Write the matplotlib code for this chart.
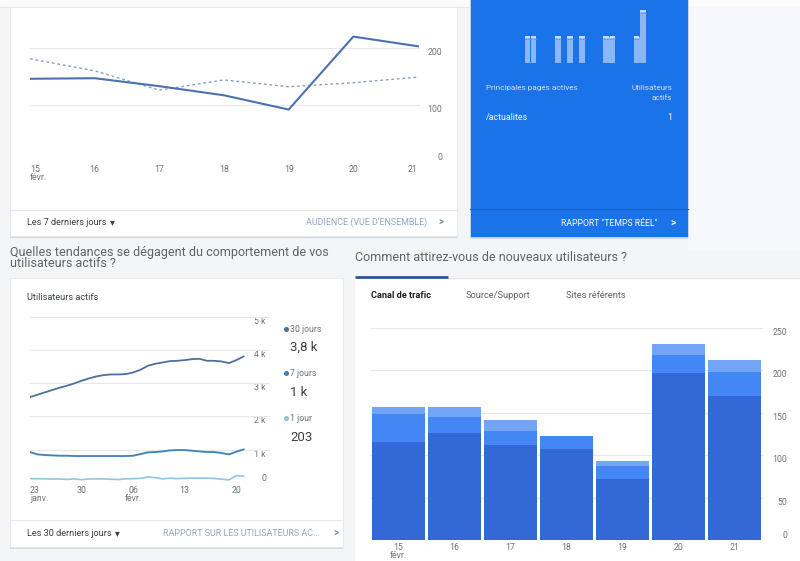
import matplotlib
matplotlib.use('Agg')
import matplotlib.pyplot as plt
from matplotlib.patches import Rectangle
from matplotlib.transforms import blended_transform_factory as btf

plt.rcParams['font.family'] = ['Roboto', 'DejaVu Sans']

# ---------------- data ----------------
days7 = ['15', '16', '17', '18', '19', '20', '21']
users_week = [146, 147, 133, 117, 92, 220, 203]
users_prev_week = [181, 160, 126, 144, 132, 139, 149]
week_ticks = [0, 100, 200]

realtime_users = [0, 0, 0, 0, 0, 0, 1, 1, 0, 0, 0, 1, 0, 1, 0, 1, 0, 0, 0, 1,
                  1, 0, 0, 0, 1, 2, 0, 0, 0, 0]

active_30d = [2580, 2650, 2720, 2790, 2860, 2920, 2990, 3070, 3140, 3200,
              3240, 3260, 3260, 3270, 3320, 3400, 3520, 3580, 3620, 3660,
              3670, 3690, 3720, 3730, 3670, 3670, 3650, 3600, 3690, 3800]
active_7d = [930, 860, 840, 830, 820, 820, 810, 810, 810, 810,
             810, 810, 810, 810, 820, 870, 920, 930, 950, 980,
             990, 990, 970, 950, 930, 930, 900, 860, 940, 1010]
active_1d = [130, 128, 126, 120, 118, 108, 122, 100, 120, 124,
             122, 112, 104, 124, 130, 140, 181, 160, 126, 144,
             132, 139, 149, 146, 147, 133, 117, 92, 220, 203]
month_tick_idx = [0, 7, 14, 21, 28]
month_tick_lab = ['23\njanv.', '30', '06\nfévr.', '13', '20']
active_ticks = [0, 1000, 2000, 3000, 4000, 5000]
active_tick_lab = ['0', '1 k', '2 k', '3 k', '4 k', '5 k']

channel_a = [115, 126, 112, 107, 72, 197, 170]
channel_b = [34, 19, 17, 16, 15, 21, 28]
channel_c = [8, 12, 12, 0, 6, 13, 14]
bar_ticks = [0, 50, 100, 150, 200, 250]

# ---------------- figure ----------------
W, H = 800, 561
fig = plt.figure(figsize=(8, 5.61), dpi=100)
fig.patch.set_facecolor('#f4f5f7')
bg = fig.add_axes([0, 0, 1, 1], zorder=0)
bg.set_xlim(0, W)
bg.set_ylim(H, 0)
bg.axis('off')

GRID = '#e6e8eb'
TICK = '#6f7378'
DARKTXT = '#3c4043'
LINKTXT = '#8ea6c6'
TS = 6.3


def T(x, y, s, **kw):
    kw.setdefault('va', 'center')
    kw.setdefault('zorder', 6)
    return bg.text(x, y, s, **kw)


def card(x0, y0, x1, y1, fc='white'):
    bg.add_patch(Rectangle((x0, y0 + 1.5), x1 - x0, y1 - y0, fc='#d6d9dd', ec='none', zorder=1))
    bg.add_patch(Rectangle((x0, y0), x1 - x0, y1 - y0, fc=fc, ec='#e3e5e8', lw=0.5, zorder=2))


def axp(x0, y0, x1, y1):
    ax = fig.add_axes([x0 / W, 1 - y1 / H, (x1 - x0) / W, (y1 - y0) / H], zorder=3)
    ax.set_facecolor('none')
    ax.axis('off')
    return ax


# page header strip
bg.add_patch(Rectangle((0, 0), W, 7, fc='#fbfbfc', ec='none', zorder=0.5))
bg.plot([0, W], [7, 7], color='#e3e5e8', lw=0.6, zorder=0.6)
bg.add_patch(Rectangle((688, 7), 112, 243, fc='#f6f8fb', ec='none', zorder=0.7))

# ---------------- top-left card ----------------
card(10, 7, 457, 236)
bg.plot([10, 457], [210, 210], color='#e6e8eb', lw=0.8, zorder=3)
T(27, 222, 'Les 7 derniers jours', fontsize=6.6, color=DARKTXT)
T(110, 222.5, '▾', fontsize=7, color=DARKTXT, family=['DejaVu Sans'])
T(427, 222, "AUDIENCE (VUE D'ENSEMBLE)", fontsize=6.4, color=LINKTXT, ha='right')
T(441, 222, '>', fontsize=7, color='#7c8ea8', ha='center', fontweight='bold')

ax1 = axp(30, 20, 420, 162)
ax1.set_xlim(0, 6 * 390 / 388)
ax1.set_ylim(0, 142 / 0.57)
x7 = list(range(len(days7)))
ax1.hlines(week_ticks, 0, 6 * 390 / 388, color=GRID, lw=0.8)
ax1.plot(x7, users_prev_week, color='#8c9dbf', lw=1.0, ls=(0, (2, 2)))
ax1.plot(x7, users_week, color='#4c72ad', lw=1.5)
tr = btf(bg.transData, ax1.transData)
for v in week_ticks:
    bg.text(442, v, str(v), transform=tr, fontsize=TS, color=TICK, ha='right',
            va='bottom' if v == 0 else 'top', zorder=6)
trx = btf(ax1.transData, bg.transData)
for i, d in enumerate(days7):
    lab = d + '\nfévr.' if i == 0 else d
    ha = 'left' if i == 0 else ('right' if i == len(days7) - 1 else 'center')
    bg.text(i, 165, lab, transform=trx, fontsize=TS, color=TICK, ha=ha, va='top',
            linespacing=0.9, zorder=6)

# ---------------- realtime blue card ----------------
card(470, -5, 688, 237, fc='#1a73e8')
bg.plot([470, 688], [209, 209], color='#1766d4', lw=0.8, zorder=3)
ax_rt = axp(488, 5, 670, 63)
ax_rt.set_xlim(-0.5, len(realtime_users) - 0.5)
ax_rt.set_ylim(0, 58 / 26)
xr = list(range(len(realtime_users)))
ax_rt.bar(xr, realtime_users, width=0.95, color='#8db6f7', edgecolor='none')
tops = [(i, v) for i, v in zip(xr, realtime_users) if v > 0]
ax_rt.hlines([v for _, v in tops], [i - 0.47 for i, _ in tops], [i + 0.47 for i, _ in tops],
             color='#e3edfd', lw=1.2)
ax_rt.hlines([v - 0.07 for _, v in tops], [i - 0.47 for i, _ in tops], [i + 0.47 for i, _ in tops],
             color='#6a9ef0', lw=0.7)
ax_rt.axhline(0, color='#5a9af0', lw=0.8)

T(486, 88, 'Principales pages actives', fontsize=5.9, color='#cfe0fc')
T(672, 88, 'Utilisateurs', fontsize=5.9, color='#cfe0fc', ha='right')
T(672, 98, 'actifs', fontsize=5.9, color='#cfe0fc', ha='right')
T(486, 117, '/actualites', fontsize=6.4, color='white')
T(672, 117, '1', fontsize=6.4, color='white', ha='right')
T(657, 223, 'RAPPORT "TEMPS RÉEL"', fontsize=6.2, color='white', ha='right')
T(673, 222.5, '>', fontsize=7.5, color='white', ha='center', fontweight='bold')

# ---------------- section titles ----------------
T(10, 258, 'Quelles tendances se dégagent du comportement de vos\nutilisateurs actifs ?',
  fontsize=9, color='#5f6368', linespacing=0.85)
T(355, 257, 'Comment attirez-vous de nouveaux utilisateurs ?', fontsize=9, color='#5f6368')

# ---------------- bottom-left card ----------------
card(10, 278, 343, 547)
bg.plot([10, 343], [520, 520], color='#e6e8eb', lw=0.8, zorder=3)
T(27, 297, 'Utilisateurs actifs', fontsize=6.6, color=DARKTXT)
T(27, 533, 'Les 30 derniers jours', fontsize=6.6, color=DARKTXT)
T(115, 533.5, '▾', fontsize=7, color=DARKTXT, family=['DejaVu Sans'])
T(320, 533, 'RAPPORT SUR LES UTILISATEURS AC...', fontsize=6.4, color=LINKTXT, ha='right')
T(336, 533, '>', fontsize=7, color='#7c8ea8', ha='center', fontweight='bold')

n30 = len(active_30d)
ax2 = axp(30, 305, 270, 483)
xmax2 = (n30 - 1) * 240 / 213.6
ax2.set_xlim(0, xmax2)
ax2.set_ylim(0, 178 / 33.3 * 1000)
x30 = list(range(n30))
ax2.hlines(active_ticks, 0, xmax2, color=GRID, lw=0.8)
c30, c7, c1 = '#4f6f9c', '#4280b8', '#93c4e2'
ax2.fill_between(x30, [v - 25 for v in active_7d], [v + 25 for v in active_7d], color='#e3f3fb', lw=0)
ax2.plot(x30, active_30d, color=c30, lw=1.3)
ax2.plot(x30, active_7d, color=c7, lw=1.3)
ax2.plot(x30, active_1d, color=c1, lw=1.2)
tr2 = btf(bg.transData, ax2.transData)
for v, lab in zip(active_ticks, active_tick_lab):
    bg.text(266, v, lab, transform=tr2, fontsize=TS, color=TICK, ha='right',
            va='bottom' if v == 0 else 'top', zorder=6)
trx2 = btf(ax2.transData, bg.transData)
for i, lab in zip(month_tick_idx, month_tick_lab):
    bg.text(i, 486, lab, transform=trx2, fontsize=TS, color=TICK,
            ha='left' if i == 0 else 'center', va='top', linespacing=0.9, zorder=6)

# legend block
leg = [(329, '30 jours', c30, 347, '3,8 k'), (373, '7 jours', c7, 392, '1 k'),
       (418, '1 jour', c1, 437, '203')]
for y, name, col, y2, val in leg:
    bg.plot([286], [y], marker='o', ms=2.6, color=col, zorder=6)
    T(290.5, y, name, fontsize=TS, color=TICK)
    T(290.5, y2, val, fontsize=9.5, color='#3c4043')

# ---------------- bottom-right card ----------------
bg.add_patch(Rectangle((355, 278), 450, 290, fc='white', ec='none', zorder=2))
bg.plot([448, 800], [277.5, 277.5], color='#e3e5e8', lw=0.8, zorder=3)
bg.plot([355, 448], [277, 277], color='#2b5797', lw=2.0, zorder=4, solid_capstyle='butt')
T(371, 295, 'Canal de trafic', fontsize=6.7, color='#202124', fontweight='bold')
T(466, 295, 'Source/Support', fontsize=6.7, color='#5f6368')
T(566, 295, 'Sites référents', fontsize=6.7, color='#5f6368')

ax3 = axp(370, 320, 763, 540)
ax3.set_xlim(-0.5, len(days7) - 0.5)
ax3.set_ylim(0, 220 / 0.848)
ax3.hlines(bar_ticks, -0.5, len(days7) - 0.5, color=GRID, lw=0.8, zorder=0)
xb = list(range(len(days7)))
bw = 0.945
ax3.bar(xb, channel_a, width=bw, color='#3468d6', zorder=2)
ax3.bar(xb, channel_b, width=bw, bottom=channel_a, color='#4487f4', zorder=2)
bot_c = [a + b for a, b in zip(channel_a, channel_b)]
ax3.bar(xb, channel_c, width=bw, bottom=bot_c, color='#74a4f5', zorder=2)
tr3 = btf(bg.transData, ax3.transData)
for v in bar_ticks:
    bg.text(787, v, str(v), transform=tr3, fontsize=TS, color=TICK, ha='right',
            va='bottom' if v == 0 else 'top', zorder=6)
trx3 = btf(ax3.transData, bg.transData)
for i, d in enumerate(days7):
    lab = d + '\nfévr.' if i == 0 else d
    bg.text(i, 543, lab, transform=trx3, fontsize=TS, color=TICK,
            ha='center', va='top', linespacing=0.9, zorder=6)

fig.savefig('out.png', dpi=100, facecolor=fig.get_facecolor())
